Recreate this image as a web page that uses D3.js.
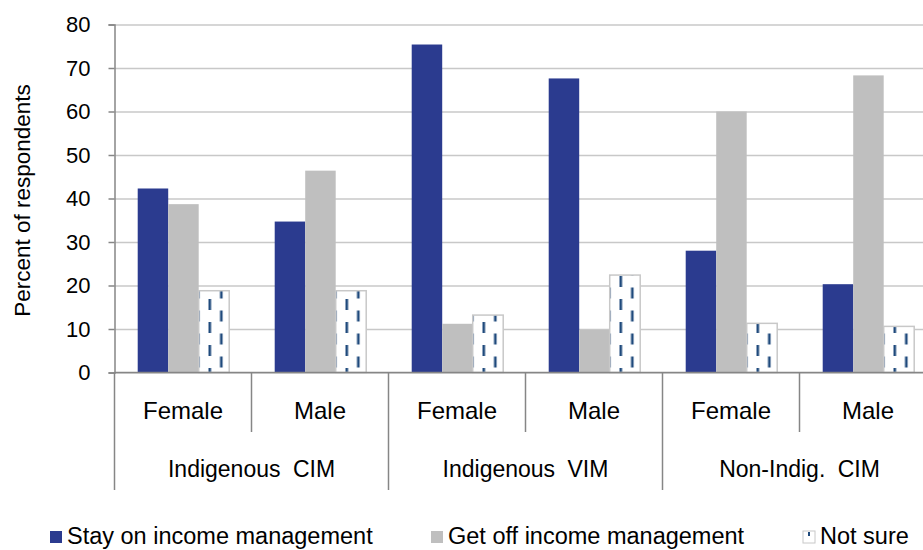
<!DOCTYPE html>
<html lang="en">
<head>
<meta charset="utf-8">
<title>Income management preference by group and sex</title>
<script src="https://cdn.jsdelivr.net/npm/d3@7"></script>
<style>
  body { margin: 0; background: #fff; }
  svg text { font-family: "Liberation Sans", Arial, sans-serif; fill: #000; }
</style>
</head>
<body>
<svg width="923" height="550"></svg>
<script>
// data
var groups = ["Indigenous CIM", "Indigenous VIM", "Non-Indig. CIM"];
var sexes = ["Female", "Male"];
var series = ["Stay on income management", "Get off income management", "Not sure"];
var stayValues = [42.3, 34.7, 75.4, 67.6, 28.0, 20.3];
var getOffValues = [38.7, 46.4, 11.2, 9.8, 60.0, 68.3];
var notSureValues = [18.8, 18.8, 13.2, 22.4, 11.3, 10.6];
var yTicks = [0, 10, 20, 30, 40, 50, 60, 70, 80];

var colors = ["#2B3B8F", "#BFBFBF", "url(#dashes)"];

var svg = d3.select("svg");
var plotL = 114.5, plotR = 936.5, plotT = 24.5, plotB = 372.5;

// one row per sub-category
var cats = [];
groups.forEach(function(g) {
  sexes.forEach(function(s) { cats.push(g + "|" + s); });
});
var rows = cats.map(function(c, i) {
  return { key: c, values: [stayValues[i], getOffValues[i], notSureValues[i]] };
});

var x0 = d3.scaleBand().domain(cats).range([plotL, plotR]).padding(0);
var x1 = d3.scaleBand().domain(series).range([0, x0.bandwidth()]).paddingOuter(0.746).paddingInner(0).align(0.51);
var y = d3.scaleLinear().domain([0, 80]).range([plotB, plotT]);

// pattern for "Not sure"
var defs = svg.append("defs");
var pat = defs.append("pattern")
  .attr("id", "dashes")
  .attr("patternUnits", "userSpaceOnUse")
  .attr("width", 23).attr("height", 23);
pat.append("rect").attr("width", 23).attr("height", 23).attr("fill", "#fff");
pat.append("rect").attr("x", 2).attr("y", 0).attr("width", 2.6).attr("height", 11).attr("fill", "#1F4A7C");
pat.append("rect").attr("x", 13.5).attr("y", 11.5).attr("width", 2.6).attr("height", 11).attr("fill", "#1F4A7C");

// gridlines
svg.append("g")
  .attr("transform", "translate(" + plotL + ",0)")
  .call(d3.axisLeft(y).tickValues(yTicks).tickSize(-(plotR - plotL)).tickFormat(""))
  .call(function(g) {
    g.select(".domain").remove();
    g.selectAll("line").attr("stroke", "#C8C8C8").attr("stroke-width", 1.3);
  });

// bars
var bars = svg.append("g").selectAll("g")
  .data(rows)
  .enter().append("g")
  .attr("transform", function(d) { return "translate(" + x0(d.key) + ",0)"; });

bars.selectAll("rect")
  .data(function(d) { return d.values.map(function(v, i) { return { s: series[i], v: v, i: i }; }); })
  .enter().append("rect")
  .attr("x", function(d) { return x1(d.s); })
  .attr("y", function(d) { return y(d.v); })
  .attr("width", x1.bandwidth())
  .attr("height", function(d) { return y(0) - y(d.v); })
  .attr("fill", function(d) { return colors[d.i]; })
  .attr("stroke", function(d) { return d.i === 2 ? "#C8C8C8" : "none"; })
  .attr("stroke-width", 1.5);

// y axis
svg.append("g")
  .attr("transform", "translate(" + plotL + ",0)")
  .call(d3.axisLeft(y).tickValues(yTicks).tickSize(6).tickPadding(18))
  .call(function(g) {
    g.select(".domain").attr("stroke", "#868686").attr("stroke-width", 1.5);
    g.selectAll("line").attr("stroke", "#868686").attr("stroke-width", 1.5);
    g.selectAll("text").style("font-size", "22px").style("font-family", "Liberation Sans, Arial, sans-serif").attr("fill", "#000");
  });

svg.append("text")
  .attr("transform", "translate(30," + ((plotT + plotB) / 2 + 2) + ") rotate(-90)")
  .attr("text-anchor", "middle")
  .style("font-size", "22.5px")
  .text("Percent of respondents");

// x axis line
svg.append("line")
  .attr("x1", plotL).attr("x2", plotR)
  .attr("y1", plotB).attr("y2", plotB)
  .attr("stroke", "#868686").attr("stroke-width", 1.5);

// separators
var ax = svg.append("g").attr("stroke", "#868686").attr("stroke-width", 1.5);
cats.forEach(function(c, i) {
  var xx = x0(c);
  var isGroupEdge = i % 2 === 0;
  ax.append("line")
    .attr("x1", xx).attr("x2", xx)
    .attr("y1", plotB).attr("y2", isGroupEdge ? 490 : 432);
});

// sub labels
svg.append("g").selectAll("text")
  .data(cats)
  .enter().append("text")
  .attr("x", function(d) { return x0(d) + x0.bandwidth() / 2; })
  .attr("y", 419)
  .attr("text-anchor", "middle")
  .style("font-size", "24px")
  .text(function(d) { return d.split("|")[1]; });

// group labels
svg.append("g").selectAll("text")
  .data(groups)
  .enter().append("text")
  .attr("x", function(d) { return x0(d + "|" + sexes[0]) + x0.bandwidth(); })
  .attr("y", 477)
  .attr("text-anchor", "middle")
  .attr("word-spacing", "6px")
  .style("font-size", "23px")
  .text(function(d) { return d; });

// legend
var legendX = [50, 431, 803];
var leg = svg.append("g").selectAll("g")
  .data(series)
  .enter().append("g")
  .attr("transform", function(d, i) { return "translate(" + legendX[i] + ",531)"; });
leg.append("rect")
  .attr("width", 12).attr("height", 12)
  .attr("fill", function(d, i) { return i === 2 ? "#fff" : colors[i]; })
  .attr("stroke", function(d, i) { return i === 2 ? "#C8C8C8" : "none"; });
leg.filter(function(d, i) { return i === 2; })
  .append("rect")
  .attr("x", 5).attr("y", 1).attr("width", 2).attr("height", 4).attr("fill", "#1F4A7C");
leg.append("text")
  .attr("x", 17).attr("y", 13)
  .style("font-size", "23.5px")
  .text(function(d) { return d; });
</script>
</body>
</html>
